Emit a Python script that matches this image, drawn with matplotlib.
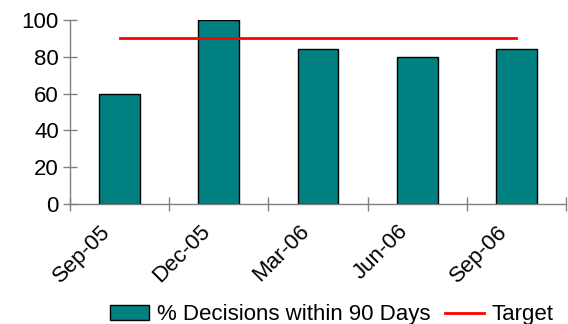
import matplotlib
matplotlib.use("Agg")
import matplotlib.pyplot as plt
import matplotlib.transforms as mtransforms
from matplotlib.patches import Patch
from matplotlib.lines import Line2D

# Quarterly decision performance
quarters = ["Sep-05", "Dec-05", "Mar-06", "Jun-06", "Sep-06"]
pct_within_90 = [60, 100, 84, 80, 84]
target = [90, 90, 90, 90, 90]

plt.rcParams["font.family"] = ["Liberation Sans", "DejaVu Sans"]
FS = 16

fig = plt.figure(figsize=(5.68, 3.24), dpi=100)
ax = fig.add_axes([70 / 568, 1 - 204 / 324, (566 - 70) / 568, (204 - 20) / 324])

x = list(range(len(quarters)))
ax.bar(x, pct_within_90, width=0.41, color="#008080", edgecolor="black",
       linewidth=1.0, zorder=2)
ax.plot(x, target, color="#FF0000", linewidth=2.0, zorder=3)

ax.set_xlim(-0.5, len(quarters) - 0.5)
ax.set_ylim(0, 100)
ax.set_yticks([0, 20, 40, 60, 80, 100])

# category boundaries carry the ticks, labels sit under each bar
ax.set_xticks([i - 0.5 for i in range(len(quarters) + 1)], minor=False)
ax.set_xticklabels([""] * (len(quarters) + 1))
ax.set_xticks(x, minor=True)
ax.set_xticklabels(quarters, minor=True, rotation=45, ha="right",
                   va="center", rotation_mode="anchor", fontsize=FS)
ax.tick_params(axis="x", which="minor", length=0, pad=19)
ax.tick_params(axis="x", which="major", direction="inout", length=10,
               color="#808080", width=1)
ax.tick_params(axis="y", direction="inout", length=10, color="#808080",
               width=1, labelsize=FS, pad=3)

shift = mtransforms.ScaledTranslation(-12 / 100, 2 / 100, fig.dpi_scale_trans)
for lbl in ax.get_xticklabels(minor=True):
    lbl.set_transform(lbl.get_transform() + shift)

for side in ("top", "right"):
    ax.spines[side].set_visible(False)
for side in ("left", "bottom"):
    ax.spines[side].set_color("#808080")
    ax.spines[side].set_linewidth(1.0)

handles = [
    Patch(facecolor="#008080", edgecolor="black", linewidth=1.0),
    Line2D([0], [0], color="#FF0000", linewidth=2.0),
]
fig.legend(handles, ["% Decisions within 90 Days", "Target"],
           loc="lower left", bbox_to_anchor=(90 / 568, -0.066),
           ncol=2, frameon=False, fontsize=FS, handlelength=1.75,
           handleheight=0.65, handletextpad=0.35, columnspacing=0.65)

fig.savefig("out.png", dpi=100)
